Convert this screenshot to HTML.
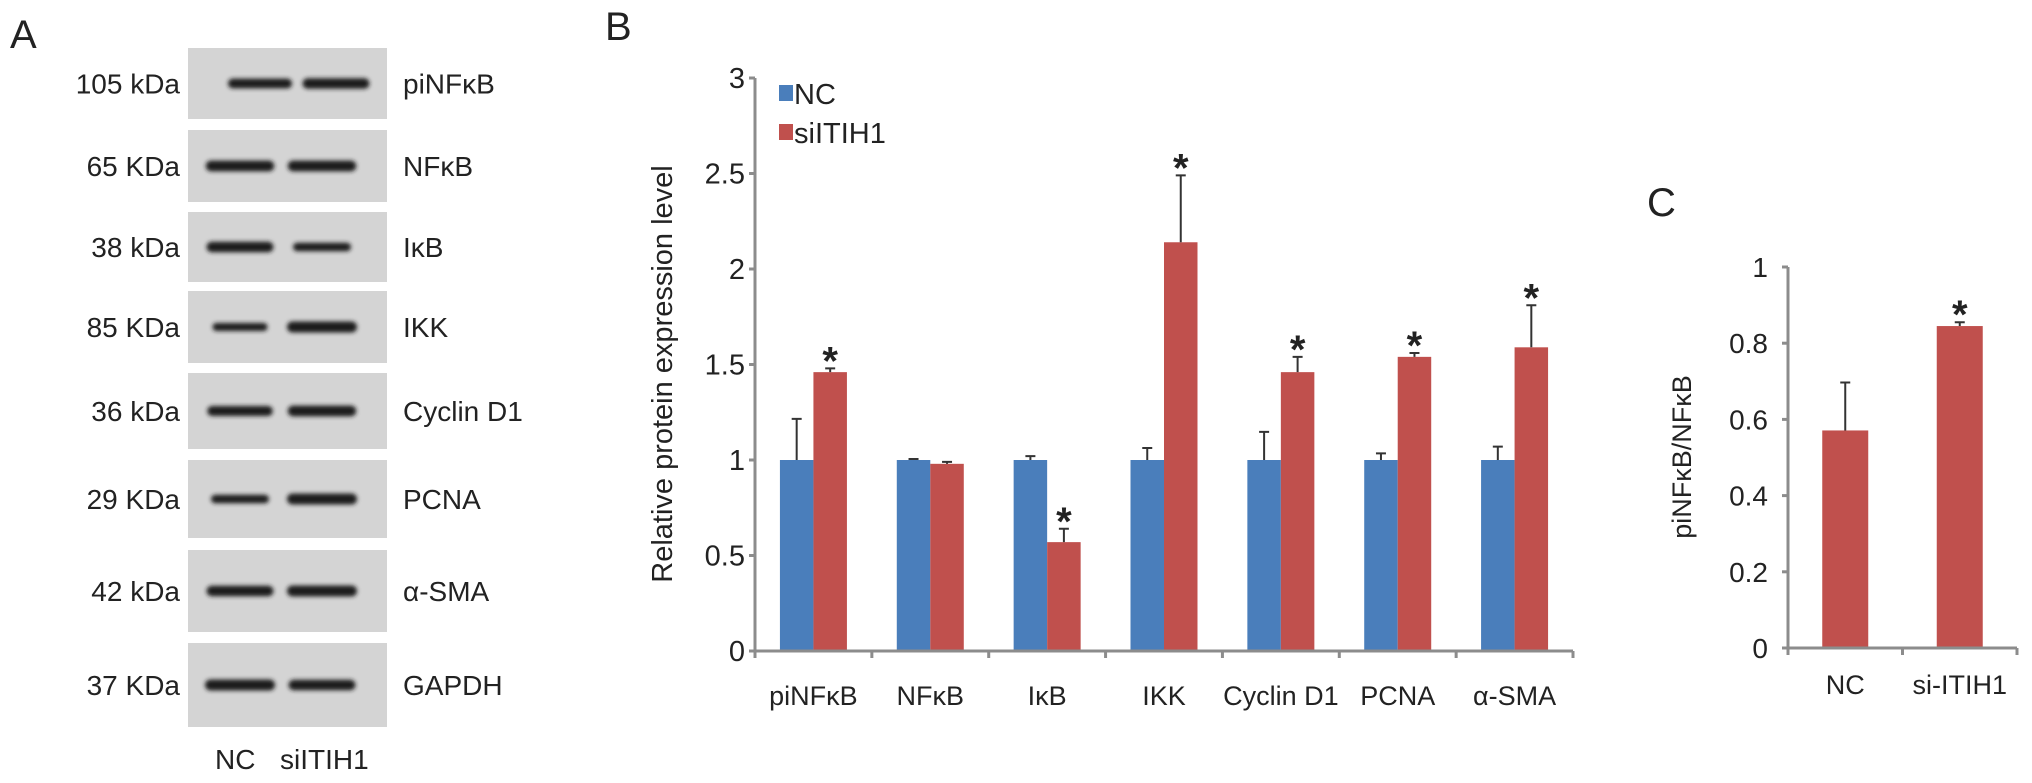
<!DOCTYPE html>
<html><head><meta charset="utf-8"><style>
html,body{margin:0;padding:0;background:#fff;width:2032px;height:783px;overflow:hidden}
svg{display:block}
text{font-family:"Liberation Sans",Arial,sans-serif;fill:#222}
</style></head><body>
<svg id="fig" width="2032" height="783" viewBox="0 0 2032 783" xmlns="http://www.w3.org/2000/svg">
<defs><filter id="blur" x="-20%" y="-100%" width="140%" height="300%"><feGaussianBlur stdDeviation="2"/></filter></defs>
<g id="panelA">
<text x="10" y="48" font-size="40">A</text>
<text x="215" y="769" font-size="28">NC</text>
<text x="280" y="769" font-size="28">siITIH1</text>
</g>
<g id="panelB"></g>
<g id="panelC"></g>
</svg>
<script>
// ---- Panel A blot data ----
const blotProteins=["piNFκB","NFκB","IκB","IKK","Cyclin D1","PCNA","α-SMA","GAPDH"];
const blotWeights=["105 kDa","65 KDa","38 kDa","85 KDa","36 kDa","29 KDa","42 kDa","37 KDa"];
const bandNC=[0.8,0.95,0.9,0.5,0.85,0.6,0.9,1.0];
const bandSi=[0.9,0.95,0.6,1.0,0.95,1.0,1.0,0.9];
// ---- Panel B data ----
const bCategories=["piNFκB","NFκB","IκB","IKK","Cyclin D1","PCNA","α-SMA"];
const ncValues=[1,1,1,1,1,1,1];
const ncErrors=[0.215,0.005,0.02,0.063,0.147,0.035,0.07];
const siValues=[1.46,0.98,0.57,2.14,1.46,1.54,1.59];
const siErrors=[0.02,0.01,0.07,0.35,0.08,0.02,0.22];
const siSignificant=[true,false,true,true,true,true,true];
const bTicks=[0,0.5,1,1.5,2,2.5,3];
const bTickLabels=["0","0.5","1","1.5","2","2.5","3"];
// ---- Panel C data ----
const cCategories=["NC","si-ITIH1"];
const cValues=[0.571,0.845];
const cErrors=[0.126,0.01];
const cSignificant=[false,true];
const cTicks=[0,0.2,0.4,0.6,0.8,1];
const cTickLabels=["0","0.2","0.4","0.6","0.8","1"];

const NS="http://www.w3.org/2000/svg";
function mk(tag,attrs,parent){const e=document.createElementNS(NS,tag);for(const k in attrs)e.setAttribute(k,attrs[k]);parent.appendChild(e);return e;}
const BLUE="#4a7ebb",RED="#c0504d",AX="#8c8c8c";

// Panel A
const pA=document.getElementById('panelA');
const rowTops=[48,130,212,291,373,460,550,643],rowH=[71,72,70,72,76,78,82,84];
blotProteins.forEach((p,i)=>{
  const y=rowTops[i],h=rowH[i],cy=y+h/2;
  const r=mk('rect',{x:188,y:y,width:199,height:h,fill:"#d4d4d4"},pA);
  
  
  const c1=i===0?260:240,c2=i===0?336:322;
  [[bandNC[i],c1],[bandSi[i],c2]].forEach(([s,cx])=>{
    const w=40+30*s,hh=5+6*s;
    const b=mk('rect',{x:cx-w/2,y:cy-hh/2,width:w,height:hh,rx:hh/2,fill:"#1e1e1e",filter:"url(#blur)"},pA);
    
    
  });
  const t=mk('text',{x:180,y:cy+10,"font-size":28,"text-anchor":"end"},pA);t.textContent=blotWeights[i];
  
  
  const t2=mk('text',{x:403,y:cy+10,"font-size":28},pA);t2.textContent=p;
  
  
});

// Panel B
const pB=document.getElementById('panelB');
const bx0=755,bx1=1573,by0=651,bPer=191;
const bY=v=>by0-v*bPer;
const bStep=(bx1-bx0)/bCategories.length;
const bX=i=>bx0+bStep*(i+0.5);
let t=mk('text',{x:605,y:40,"font-size":40},pB);t.textContent="B";


t=mk('text',{x:0,y:0,"font-size":29,"text-anchor":"middle",transform:`translate(672,374) rotate(-90)`},pB);t.textContent="Relative protein expression level";


bCategories.forEach((c,i)=>{
  const cx=bX(i),bw=33.5;
  [[ncValues[i],ncErrors[i],cx-bw,BLUE,'bar-nc'],[siValues[i],siErrors[i],cx,RED,'bar-siitih1']].forEach(([v,e,x,col,nm])=>{
    const r=mk('rect',{x:x,y:bY(v),width:bw,height:by0-bY(v),fill:col},pB);
    
    
    const m=x+bw/2;
    const l=mk('path',{d:`M${m},${bY(v)}V${bY(v+e)}M${m-5},${bY(v+e)}H${m+5}`,stroke:"#333","stroke-width":2,fill:"none"},pB);
    
    
  });
  if(siSignificant[i]){
    const s=mk('text',{x:cx+bw/2,y:bY(siValues[i]+siErrors[i])+6,"font-size":40,"font-weight":"bold","text-anchor":"middle"},pB);s.textContent="*";
    
    
  }
  const lb=mk('text',{x:cx,y:705,"font-size":27,"text-anchor":"middle"},pB);lb.textContent=c;
  
  
});
let ax=mk('path',{d:`M${bx0},${bY(3)}V${by0}H${bx1}`,stroke:AX,"stroke-width":3,fill:"none"},pB);


bTicks.forEach((v,i)=>{
  mk('path',{d:`M${bx0-6},${bY(v)}H${bx0}`,stroke:AX,"stroke-width":3},pB);
  const tl=mk('text',{x:745,y:bY(v)+10,"font-size":29,"text-anchor":"end"},pB);tl.textContent=bTickLabels[i];
  
  
});
for(let i=0;i<=bCategories.length;i++)mk('path',{d:`M${bx0+bStep*i},${by0}v7`,stroke:AX,"stroke-width":3},pB);
[["NC",BLUE,93],["siITIH1",RED,132]].forEach(([n,c,y])=>{
  const sq=mk('rect',{x:779,y:y-8,width:14,height:16,fill:c},pB);
  
  
  const lt=mk('text',{x:794,y:y+11,"font-size":29},pB);lt.textContent=n;
  
  
});

// Panel C
const pC=document.getElementById('panelC');
const cx0=1788,cx1=2017,cy0=648,cPer=381;
const cY=v=>cy0-v*cPer;
const cStep=(cx1-cx0)/cCategories.length;
t=mk('text',{x:1647,y:216,"font-size":40},pC);t.textContent="C";


t=mk('text',{x:0,y:0,"font-size":27,"text-anchor":"middle",transform:`translate(1691,457) rotate(-90)`},pC);t.textContent="piNFκB/NFκB";


cCategories.forEach((c,i)=>{
  const m=cx0+cStep*(i+0.5),bw=46,v=cValues[i],e=cErrors[i];
  const r=mk('rect',{x:m-bw/2,y:cY(v),width:bw,height:cy0-cY(v),fill:RED},pC);
  
  
  const l=mk('path',{d:`M${m},${cY(v)}V${cY(v+e)}M${m-5},${cY(v+e)}H${m+5}`,stroke:"#333","stroke-width":2,fill:"none"},pC);
  
  
  if(cSignificant[i]){
    const s=mk('text',{x:m,y:cY(v+e)+6,"font-size":40,"font-weight":"bold","text-anchor":"middle"},pC);s.textContent="*";
    
    
  }
  const lb=mk('text',{x:m,y:694,"font-size":27,"text-anchor":"middle"},pC);lb.textContent=c;
  
  
});
ax=mk('path',{d:`M${cx0},${cY(1)}V${cy0}H${cx1}`,stroke:AX,"stroke-width":3,fill:"none"},pC);


cTicks.forEach((v,i)=>{
  mk('path',{d:`M${cx0-6},${cY(v)}H${cx0}`,stroke:AX,"stroke-width":3},pC);
  const tl=mk('text',{x:1768,y:cY(v)+10,"font-size":28,"text-anchor":"end"},pC);tl.textContent=cTickLabels[i];
  
  
});
for(let i=0;i<=cCategories.length;i++)mk('path',{d:`M${cx0+cStep*i},${cy0}v7`,stroke:AX,"stroke-width":3},pC);
</script>
</body></html>
